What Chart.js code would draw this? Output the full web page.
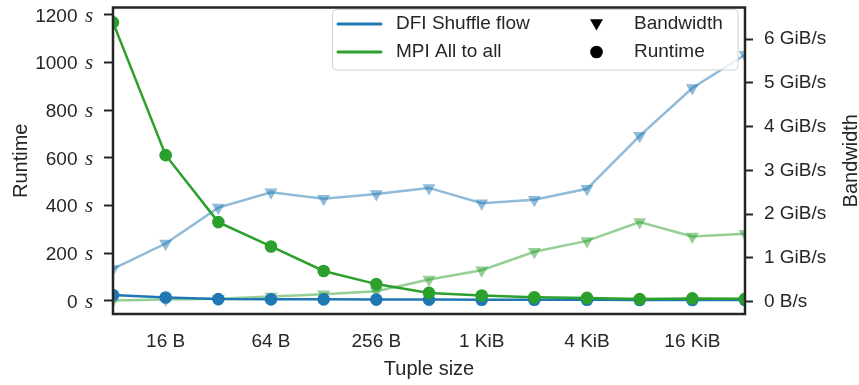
<!DOCTYPE html>
<html><head><meta charset="utf-8">
<script src="https://cdn.jsdelivr.net/npm/chart.js@4/dist/chart.umd.min.js"></script>
<style>html,body{margin:0;padding:0;background:#fff}canvas{display:block}</style>
</head><body>
<canvas id="c" width="859" height="385"></canvas>
<script>
// ---- data ----
const tupleSizes = ['8 B','16 B','32 B','64 B','128 B','256 B','512 B','1 KiB','2 KiB','4 KiB','8 KiB','16 KiB','32 KiB'];
const dfiRuntime   = [24, 14, 7, 6, 6, 5, 5, 4, 4, 4, 3, 3, 3];          // seconds
const mpiRuntime   = [1168, 611, 330, 228, 125, 70, 33, 22, 15, 12, 7, 10, 8]; // seconds
const dfiBandwidth = [0.75, 1.33, 2.15, 2.5, 2.35, 2.46, 2.6, 2.25, 2.33, 2.58, 3.79, 4.88, 5.64]; // GiB/s
const mpiBandwidth = [0.03, 0.05, 0.07, 0.12, 0.17, 0.24, 0.51, 0.72, 1.14, 1.39, 1.82, 1.49, 1.55]; // GiB/s
const runtimeTicks   = [0, 200, 400, 600, 800, 1000, 1200];
const bandwidthTicks = [0, 1, 2, 3, 4, 5, 6];
const shownSizeLabels = ['16 B','64 B','256 B','1 KiB','4 KiB','16 KiB'];

// ---- styles ----
const FONT = '"Liberation Sans", Arial, sans-serif';
const TXT = '#262626';
const BLUE = '#1f77b4', GREEN = '#2ca02c';
const BLUE_A = 'rgba(31,119,180,0.5)', GREEN_A = 'rgba(44,160,44,0.5)';
Chart.defaults.font.family = FONT;
Chart.defaults.font.size = 19;
Chart.defaults.color = TXT;

const decor = {
  id: 'decor',
  afterDatasetsDraw(chart) {
    const {ctx, chartArea: a} = chart;
    ctx.save();
    ctx.strokeStyle = TXT;
    ctx.lineWidth = 2.5;
    ctx.strokeRect(a.left, a.top, a.right - a.left, a.bottom - a.top);
    ctx.restore();
  },
  afterDraw(chart) {
    const {ctx} = chart;
    const ys = chart.scales.y;
    ctx.save();
    // left tick labels: number + italic math "s"
    ctx.fillStyle = TXT;
    ctx.textBaseline = 'alphabetic';
    runtimeTicks.forEach(v => {
      const py = ys.getPixelForValue(v) + 6.8;
      ctx.font = '19px ' + FONT;
      ctx.textAlign = 'right';
      ctx.fillText(String(v), 77.5, py);
      ctx.font = 'italic 21px "Liberation Serif", "DejaVu Serif", serif';
      ctx.textAlign = 'left';
      ctx.fillText('s', 85, py);
    });
    // right axis title, rotated like the left one
    ctx.save();
    ctx.translate(851.5, (chart.chartArea.top + chart.chartArea.bottom) / 2);
    ctx.rotate(-Math.PI / 2);
    ctx.font = '20px ' + FONT;
    ctx.textAlign = 'center';
    ctx.textBaseline = 'middle';
    ctx.fillText('Bandwidth', 0, 0);
    ctx.restore();

    // legend
    const bx = 332.5, by = 9.5, bw = 405.5, bh = 60.5, r = 4;
    ctx.beginPath();
    ctx.moveTo(bx + r, by);
    ctx.arcTo(bx + bw, by, bx + bw, by + bh, r);
    ctx.arcTo(bx + bw, by + bh, bx, by + bh, r);
    ctx.arcTo(bx, by + bh, bx, by, r);
    ctx.arcTo(bx, by, bx + bw, by, r);
    ctx.closePath();
    ctx.fillStyle = 'rgba(255,255,255,0.8)';
    ctx.fill();
    ctx.strokeStyle = '#d0d0d0';
    ctx.lineWidth = 1;
    ctx.stroke();

    const rows = [
      {y: 24, color: BLUE, text: 'DFI Shuffle flow', mtext: 'Bandwidth', m: {pointStyle: 'triangle', rotation: 180, radius: 7.5}},
      {y: 52, color: GREEN, text: 'MPI All to all', mtext: 'Runtime', m: {pointStyle: 'circle', rotation: 0, radius: 6.3}}
    ];
    rows.forEach(row => {
      ctx.strokeStyle = row.color;
      ctx.lineWidth = 3;
      ctx.lineCap = 'round';
      ctx.beginPath();
      ctx.moveTo(338, row.y);
      ctx.lineTo(381, row.y);
      ctx.stroke();
      ctx.fillStyle = TXT;
      ctx.font = '19px ' + FONT;
      ctx.textAlign = 'left';
      ctx.textBaseline = 'middle';
      ctx.fillText(row.text, 396, row.y);
      ctx.fillText(row.mtext, 634, row.y);
      ctx.fillStyle = '#000';
      ctx.strokeStyle = '#000';
      ctx.lineWidth = 0;
      Chart.helpers.drawPoint(ctx, Object.assign({borderWidth: 0}, row.m), 596.5, row.y + (row.m.pointStyle === 'triangle' ? -1 : 0));
    });
    ctx.restore();
  }
};

const common = {borderWidth: 2.5, pointBorderWidth: 0, clip: 0, tension: 0};
function noPad(s) { s.paddingTop = 0; s.paddingBottom = 0; }

new Chart(document.getElementById('c'), {
  type: 'line',
  data: {
    labels: tupleSizes,
    datasets: [
      Object.assign({label: 'MPI All to all (Runtime)', data: mpiRuntime, yAxisID: 'y',
        borderColor: GREEN, backgroundColor: GREEN, pointStyle: 'circle', pointRadius: 6.3, order: 0}, common),
      Object.assign({label: 'DFI Shuffle flow (Runtime)', data: dfiRuntime, yAxisID: 'y',
        borderColor: BLUE, backgroundColor: BLUE, pointStyle: 'circle', pointRadius: 6.3, order: 1}, common),
      Object.assign({label: 'DFI Shuffle flow (Bandwidth)', data: dfiBandwidth, yAxisID: 'y1',
        borderColor: BLUE_A, backgroundColor: BLUE_A, pointStyle: 'triangle', pointRotation: 180, pointRadius: 7.5, order: 2}, common),
      Object.assign({label: 'MPI All to all (Bandwidth)', data: mpiBandwidth, yAxisID: 'y1',
        borderColor: GREEN_A, backgroundColor: GREEN_A, pointStyle: 'triangle', pointRotation: 180, pointRadius: 7.5, order: 3}, common)
    ]
  },
  options: {
    responsive: false,
    animation: false,
    layout: {padding: {top: 6, left: 0, right: 0, bottom: 0}},
    plugins: {legend: {display: false}, tooltip: {enabled: false}},
    scales: {
      x: {
        type: 'category',
        offset: false,
        grid: {display: false, drawTicks: false},
        border: {display: false},
        ticks: {
          autoSkip: false, maxRotation: 0, padding: 16,
          callback(v) { const l = this.getLabelForValue(v); return shownSizeLabels.includes(l) ? l : ''; }
        },
        title: {display: true, text: 'Tuple size', font: {size: 20}, color: TXT, padding: {top: 4, bottom: 4}},
        afterFit(s) { s.height = 71; s.paddingLeft = 0; s.paddingRight = 0; }
      },
      y: {
        position: 'left',
        min: -55.5, max: 1230.5,
        afterBuildTicks(s) { s.ticks = runtimeTicks.map(v => ({value: v})); },
        ticks: {callback: () => '', padding: 0},
        grid: {display: true, drawOnChartArea: false, drawTicks: true, tickLength: 9, tickWidth: 2, tickColor: TXT},
        border: {display: false},
        title: {display: true, text: 'Runtime', font: {size: 20}, color: TXT, padding: {top: 9, bottom: 0}},
        afterFit(s) { s.width = 113; noPad(s); }
      },
      y1: {
        position: 'right',
        min: -0.28, max: 6.72,
        afterBuildTicks(s) { s.ticks = bandwidthTicks.map(v => ({value: v})); },
        ticks: {padding: 11, callback: v => v === 0 ? '0 B/s' : v + ' GiB/s'},
        grid: {display: true, drawOnChartArea: false, drawTicks: true, tickLength: 8, tickWidth: 2, tickColor: TXT},
        border: {display: false},
        title: {display: false},
        afterFit(s) { s.width = 114; noPad(s); }
      }
    }
  },
  plugins: [decor]
});
</script>
</body></html>
